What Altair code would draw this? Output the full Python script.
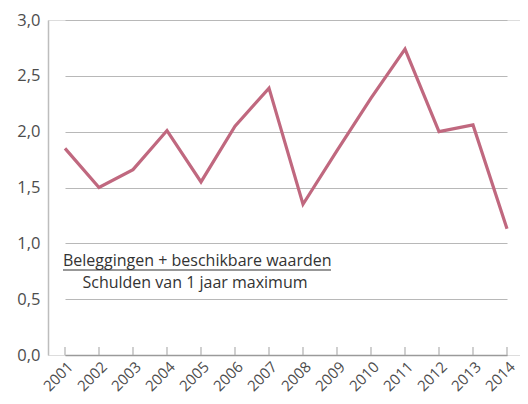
import altair as alt
import pandas as pd

years = ["2001", "2002", "2003", "2004", "2005", "2006", "2007",
         "2008", "2009", "2010", "2011", "2012", "2013", "2014"]
values = [1.85, 1.50, 1.66, 2.01, 1.55, 2.05, 2.39,
          1.35, 1.83, 2.30, 2.74, 2.00, 2.06, 1.13]
y_ticks = [0.0, 0.5, 1.0, 1.5, 2.0, 2.5, 3.0]
label_top = "Beleggingen + beschikbare waarden"
label_bottom = "Schulden van 1 jaar maximum"

df = pd.DataFrame({"year": years, "value": values})

W, H = 472, 335
FONT = "Open Sans"
LINE_COLOR = "#c0687f"

x_scale = alt.Scale(type="point", padding=0, range=[17, 459])

x_enc = alt.X("year:O", scale=x_scale,
              axis=alt.Axis(title=None, labelAngle=-45, labelFont=FONT, labelFontSize=15,
                            labelColor="#4d4d4d", tickSize=0, domainColor="#9a9a9a",
                            domainWidth=1.5, labelPadding=4, labelAlign="right",
                            labelBaseline="top"))

y_enc = alt.Y("value:Q", scale=alt.Scale(domain=[0, 3], nice=False, zero=True),
              axis=alt.Axis(title=None, values=y_ticks, grid=True, gridColor="#b8b8b8",
                            gridWidth=1.2, ticks=False, domainColor="#bdbdbd", domainWidth=1.5,
                            labelFont=FONT, labelFontSize=16.5, labelColor="#4d4d4d",
                            labelPadding=8,
                            labelExpr="replace(format(datum.value, '.1f'), '.', ',')"))

base = alt.Chart(df)

line = base.mark_line(color=LINE_COLOR, strokeWidth=3.2, strokeJoin="miter").encode(x=x_enc, y=y_enc)

ticks = base.mark_rule(color="#b0b0b0", strokeWidth=1.2).encode(
    x=alt.X("year:O", scale=x_scale),
    y=alt.value(H - 8), y2=alt.value(H))

text1 = alt.Chart(pd.DataFrame({"t": [label_top]})).mark_text(
    font=FONT, fontSize=16, color="#333333", align="left", baseline="alphabetic").encode(
    text="t:N", x=alt.value(15), y=alt.value(246))

underline = alt.Chart(pd.DataFrame({"t": [label_top]})).mark_rule(color="#333333", strokeWidth=1.2).encode(
    x=alt.value(15), x2=alt.value(283), y=alt.value(250))

text2 = alt.Chart(pd.DataFrame({"t": [label_bottom]})).mark_text(
    font=FONT, fontSize=16, color="#333333", align="center", baseline="alphabetic").encode(
    text="t:N", x=alt.value(147), y=alt.value(268))

chart = alt.layer(ticks, line, text1, underline, text2).properties(
    width=W, height=H,
    autosize=alt.AutoSizeParams(type="none"),
    padding={"left": 40, "top": 12, "right": 0, "bottom": 41},
).configure_view(stroke=None).configure(background="white")

chart.save("out.html", embed_options={"renderer": "svg", "actions": False})
